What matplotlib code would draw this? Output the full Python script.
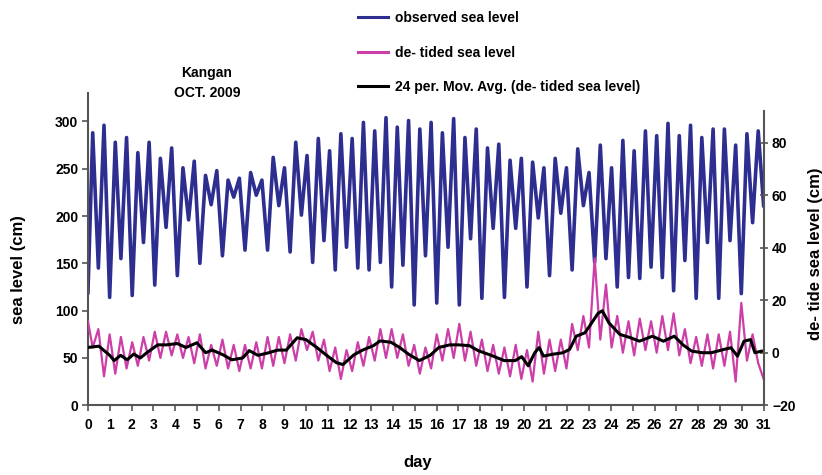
import numpy as np
import matplotlib
matplotlib.use('Agg')
import matplotlib.pyplot as plt
from matplotlib.lines import Line2D

plt.rcParams['font.family'] = ['Liberation Sans', 'DejaVu Sans']
plt.rcParams['font.weight'] = 'bold'

# ==[1] Tide gauge data, Kangan, October 2009 (cm)
#
# Observed sea level: successive low / high waters, one pair per tidal cycle.
obs_low = [119, 145, 114, 155, 116, 172, 127, 188, 137, 196,
           150, 212, 158, 220, 164, 222, 164, 211, 162, 201,
           151, 174, 143, 167, 145, 143, 151, 125, 148, 106,
           158, 108, 167, 106, 176, 113, 187, 114, 187, 125,
           198, 137, 203, 143, 211, 151, 155, 125, 135, 134,
           146, 135, 121, 153, 113, 172, 113, 174, 118, 193]
obs_high = [288, 296, 278, 283, 267, 278, 261, 272, 251, 258,
            243, 248, 238, 240, 246, 238, 262, 251, 278, 264,
            282, 269, 287, 282, 299, 290, 304, 294, 301, 292,
            299, 288, 303, 283, 292, 272, 276, 259, 261, 257,
            251, 261, 251, 271, 246, 275, 251, 280, 269, 290,
            285, 298, 285, 296, 283, 292, 292, 275, 287, 290]
obs_last = 211

# De-tided residual, sampled at the same low / high water times
detided = [12, 2, 9, -9, 7, -8, 6, -6, 4, -5,
           6, -3, 8, -2, 8, -1, 7, -2, 6, -4,
           7, -6, 3, -5, 5, -6, 3, -7, 3, -6,
           4, -6, 6, -5, 6, -4, 7, -3, 9, 1,
           8, -3, 5, -7, 2, -10, 1, -7, 4, -5,
           6, -3, 9, -2, 9, -2, 7, -5, 3, -8,
           2, -6, 7, -3, 9, -2, 11, -3, 8, -5,
           5, -7, 3, -8, 2, -9, 3, -10, 1, -11,
           8, -8, 5, -7, 5, -6, 11, 1, 14, 2,
           36, 5, 26, 2, 14, 0, 12, -1, 13, 1,
           12, 0, 14, 1, 15, -1, 9, -4, 6, -5,
           7, -6, 7, -5, 8, -11, 19, -3, 7, -4,
           -10]

# 24-hour moving average of the de-tided level
ma_day = [0, 0.5, 1.0, 1.2, 1.5, 1.8, 2.1, 2.4, 2.7, 3.2, 3.6, 4.1, 4.5, 5.0,
          5.4, 5.7, 6.2, 6.6, 7.1, 7.4, 7.8, 8.3, 8.7, 9.1, 9.6, 10.0, 10.5,
          10.95, 11.4, 11.7, 12.2, 12.6, 13.1, 13.4, 13.9, 14.3, 14.7, 15.2,
          15.7, 16.1, 16.6, 17.0, 17.5, 17.9, 18.5, 19.1, 19.6, 19.9, 20.2,
          20.5, 20.7, 20.9, 21.3, 21.8, 22.1, 22.4, 22.8, 23.0, 23.4, 23.6,
          23.9, 24.4, 24.9, 25.3, 25.9, 26.4, 26.9, 27.3, 27.7, 28.2, 28.6,
          29.2, 29.5, 29.8, 30.1, 30.4, 30.6, 30.9]
ma_val = [2, 2.5, -1, -3, -1, -2.7, -0.5, -2, 0, 3, 3, 3.5, 2, 3.8,
          0, 1, -0.8, -2.7, -2, 0.8, -1, 0, 1, 1, 5.7, 5, 2,
          -1, -3.8, -4.5, -0.8, 1, 2.7, 4.5, 4, 2, -0.5, -3,
          -1, 2, 3, 3, 2.7, 0.8, -1, -3, -3, -1.5, -5,
          0, 2, -1.3, -0.6, 0, 1.3, 6.3, 7.6, 10, 15, 16,
          11.4, 7, 5.7, 4.4, 6.3, 4.4, 6.3, 3, 0.6, 0, 0,
          1.3, 1.9, -1.3, 4.4, 5, 0, 0.6]

days = list(range(0, 32))

# ==[2] Build the time axis (half of the M2 period between turning points)
#
obs = []
for lo, hi in zip(obs_low, obs_high):
    obs += [lo, hi]
obs.append(obs_last)
half_cycle = 12.42 / 24 / 2
t = np.clip(np.arange(len(obs)) * half_cycle - 0.04, 0, 31)
t_dt = np.clip(np.arange(len(detided)) * half_cycle - 0.04, 0, 31)

# ==[3] Plot
#
fig = plt.figure(figsize=(8.22, 4.75), dpi=100)
ax = fig.add_axes([0.107, 0.147, 0.822, 0.657])
ax2 = ax.twinx()

c_obs = '#2E2E90'
c_dt = '#CC3FA8'
ax.plot(t, obs, color=c_obs, lw=2.6)
ax2.plot(t_dt, detided, color=c_dt, lw=1.6)
ax2.plot(ma_day, ma_val, color='black', lw=2.2)

ax.set_xlim(0, 31)
ax.set_ylim(0, 330)
ax2.set_ylim(-20, 99)
ax.set_xticks(days)
ax.set_yticks(range(0, 301, 50))
ax2.set_yticks(range(-20, 81, 20))

spine_c = '#555555'
for s in ['top', 'right']:
    ax.spines[s].set_visible(False)
for s in ['top', 'left', 'bottom']:
    ax2.spines[s].set_visible(False)
for a, s in [(ax, 'left'), (ax, 'bottom'), (ax2, 'right')]:
    a.spines[s].set_color(spine_c)
    a.spines[s].set_linewidth(1.5)
ax2.spines['right'].set_bounds(-20, 92)

ax.tick_params(axis='both', labelsize=10, color=spine_c, width=1.2, length=4, pad=3)
ax.tick_params(axis='x', pad=5)
ax2.tick_params(axis='y', labelsize=10, color=spine_c, width=1.2, length=6,
                direction='inout', pad=3)
for lab in ax.get_xticklabels() + ax.get_yticklabels() + ax2.get_yticklabels():
    lab.set_fontweight('bold')

fig.text(18 / 822, 1 - 270 / 475, 'sea level (cm)', rotation=90,
         ha='center', va='center', fontsize=12, fontweight='bold')
fig.text(815 / 822, 1 - 254 / 475, 'de- tide sea level (cm)', rotation=90,
         ha='center', va='center', fontsize=12, fontweight='bold')
fig.text(418 / 822, 1 - 462 / 475, 'day', ha='center', va='center',
         fontsize=12, fontweight='bold')
fig.text(207 / 822, 1 - 83 / 475, 'Kangan\nOCT. 2009', ha='center', va='center',
         fontsize=10, fontweight='bold', linespacing=1.5)

handles = [Line2D([], [], color=c_obs, lw=2.2),
           Line2D([], [], color=c_dt, lw=2.2),
           Line2D([], [], color='black', lw=2.2)]
labels = ['observed sea level', 'de- tided sea level',
          '24 per. Mov. Avg. (de- tided sea level)']
fig.legend(handles, labels, loc='upper left', bbox_to_anchor=(358 / 822, 1 - 11 / 475),
           frameon=False, handlelength=2.15, handletextpad=0.5,
           labelspacing=1.48, borderaxespad=0, borderpad=0,
           prop={'weight': 'bold', 'size': 10})

fig.savefig('out.png', dpi=100)
